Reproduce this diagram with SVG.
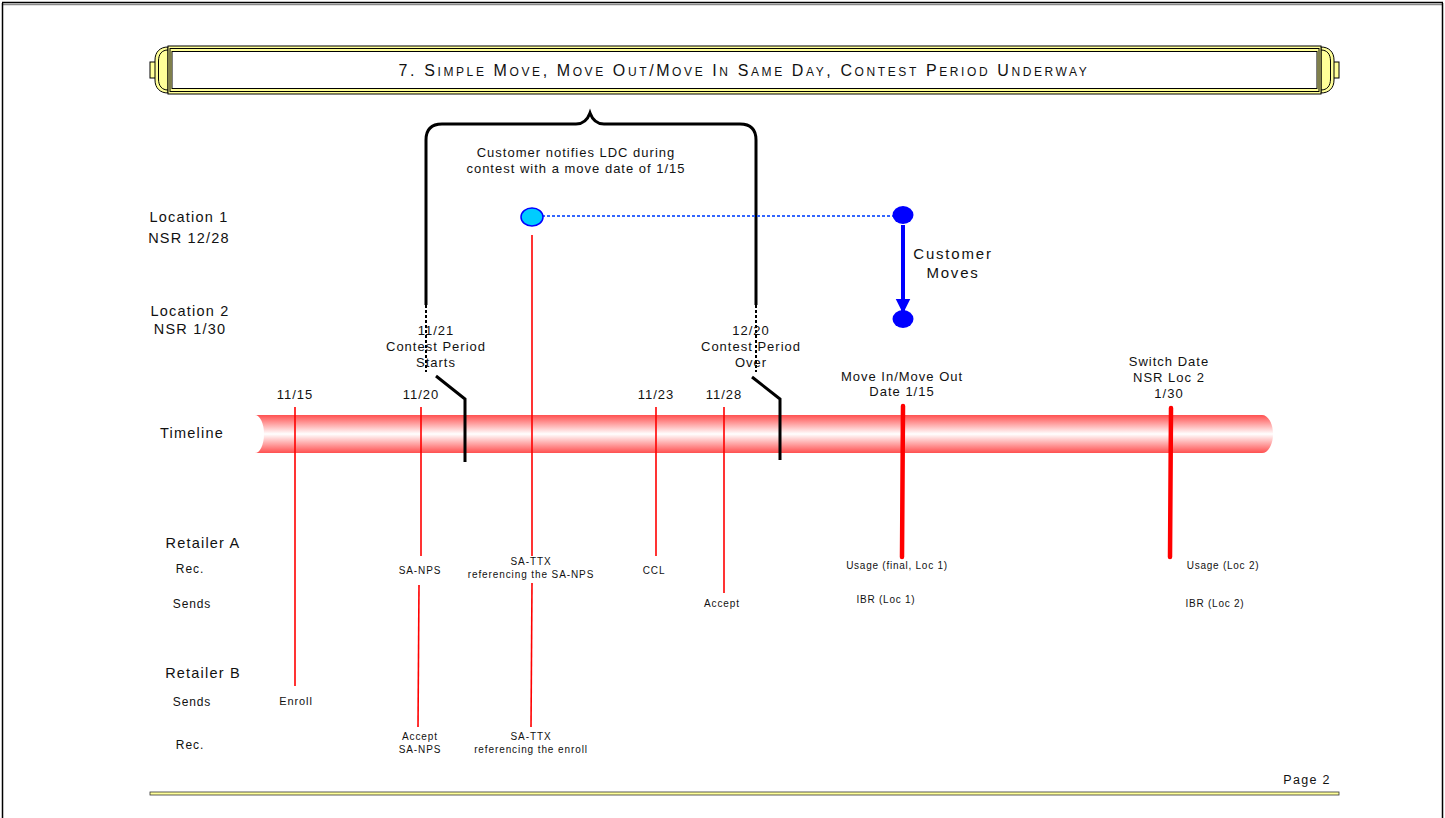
<svg xmlns="http://www.w3.org/2000/svg" width="1445" height="818" viewBox="0 0 1445 818">
<defs>
<linearGradient id="tube" x1="0" y1="0" x2="0" y2="1">
<stop offset="0" stop-color="#ff5050"/>
<stop offset="0.5" stop-color="#ffffff"/>
<stop offset="1" stop-color="#ff5050"/>
</linearGradient>
<marker id="bluehead" viewBox="0 0 10 10" refX="9" refY="5" markerWidth="15" markerHeight="18" orient="auto" markerUnits="userSpaceOnUse">
<path d="M0,0 L10,5 L0,10 Z" fill="#0000ff"/>
</marker>
<style>
text{font-family:"Liberation Sans",Arial,sans-serif;fill:#111;text-anchor:middle}
.lbl{font-size:14.5px;letter-spacing:1.2px}
.tick{font-size:13px;letter-spacing:1px}
.sm{font-size:10px;letter-spacing:0.9px}
.red{stroke:#ff0000;stroke-width:1.6;fill:none}
.redb{stroke:#ff0000;stroke-width:4.5;fill:none;stroke-linecap:round}
.blk{stroke:#000;stroke-width:3;fill:none}
.dash{stroke:#000;stroke-width:2;fill:none;stroke-dasharray:3 2}
.sc{font-size:12px}
</style>
</defs>
<rect width="1445" height="818" fill="#fff"/>
<!-- page frame -->
<g id="page-frame">
<line x1="2" y1="2.5" x2="1443" y2="2.5" stroke="#000" stroke-width="1.5"/>
<line x1="2" y1="4.5" x2="1443" y2="4.5" stroke="#888" stroke-width="1.5"/>
<line x1="2.5" y1="3" x2="2.5" y2="818" stroke="#000" stroke-width="1.5"/>
<line x1="1442.5" y1="3" x2="1442.5" y2="818" stroke="#000" stroke-width="1.5"/>
</g>
<!-- title banner -->
<g id="title">
<rect x="150" y="62" width="8" height="16" fill="#ffff99" stroke="#000" stroke-width="1"/>
<path d="M168,47 C160,47 155,52 155,60 L155,80 C155,88 160,93 168,93 Z" fill="#ffff99" stroke="#000" stroke-width="1"/>
<path d="M168,50 C162,50 158.5,54 158.5,61 L158.5,79 C158.5,86 162,90 168,90" fill="none" stroke="#000" stroke-width="1"/>
<rect x="1331" y="62" width="8" height="16" fill="#ffff99" stroke="#000" stroke-width="1"/>
<path d="M1321,47 C1329,47 1334,52 1334,60 L1334,80 C1334,88 1329,93 1321,93 Z" fill="#ffff99" stroke="#000" stroke-width="1"/>
<path d="M1321,50 C1327,50 1330.5,54 1330.5,61 L1330.5,79 C1330.5,86 1327,90 1321,90" fill="none" stroke="#000" stroke-width="1"/>
<rect x="168" y="46" width="1153" height="48" fill="#ffff99" stroke="#000" stroke-width="1"/>
<rect x="170" y="48.5" width="1149" height="43" fill="none" stroke="#000" stroke-width="1"/>
<rect x="172" y="51.5" width="1145" height="37" fill="#fff" stroke="#000" stroke-width="1"/>
<text x="744" y="76" style="font-size:16px;letter-spacing:2.6px">7. S<tspan class="sc">IMPLE</tspan> M<tspan class="sc">OVE</tspan>, M<tspan class="sc">OVE</tspan> O<tspan class="sc">UT</tspan>/M<tspan class="sc">OVE</tspan> I<tspan class="sc">N</tspan> S<tspan class="sc">AME</tspan> D<tspan class="sc">AY</tspan>, C<tspan class="sc">ONTEST</tspan> P<tspan class="sc">ERIOD</tspan> U<tspan class="sc">NDERWAY</tspan></text>
</g>
<!-- row labels -->
<g id="row-labels">
<text class="lbl" x="189" y="222">Location 1</text>
<text class="lbl" x="189" y="243">NSR 12/28</text>
<text class="lbl" x="190" y="316">Location 2</text>
<text class="lbl" x="190" y="334">NSR 1/30</text>
<text class="lbl" x="192" y="438">Timeline</text>
<text class="lbl" x="203" y="548">Retailer A</text>
<text class="sm" x="190" y="573" style="font-size:12px">Rec.</text>
<text class="sm" x="192" y="608" style="font-size:12px">Sends</text>
<text class="lbl" x="203" y="678">Retailer B</text>
<text class="sm" x="192" y="706" style="font-size:12px">Sends</text>
<text class="sm" x="190" y="749" style="font-size:12px">Rec.</text>
</g>
<!-- timeline -->
<g id="timeline">
<path d="M255,415 L1262,415 A11,19 0 0 1 1262,453 L255,453 A9,19 0 0 0 255,415 Z" fill="url(#tube)"/>
</g>
<!-- contest brace -->
<g id="contest-brace">
<path class="blk" d="M426,305 L426,140 Q426,124 442,124 L576,124 Q586,124 590,113 Q594,124 604,124 L740,124 Q756,124 756,140 L756,305"/>
<text x="576" y="157" style="font-size:13px;letter-spacing:1px">Customer notifies LDC during</text>
<text x="576" y="173" style="font-size:13px;letter-spacing:1px">contest with a move date of 1/15</text>
</g>
<!-- connectors -->
<g id="connectors">
<line class="dash" x1="426" y1="305" x2="426" y2="372"/>
<line class="dash" x1="756" y1="305" x2="756" y2="372"/>
<path class="blk" d="M436,376 L465,399 L465,462"/>
<path class="blk" d="M752,377 L780,399 L780,460"/>
<line class="red" x1="295" y1="407" x2="295" y2="686"/>
<line class="red" x1="421" y1="407" x2="421" y2="556"/>
<line class="red" x1="419" y1="585" x2="418" y2="727"/>
<line class="red" x1="532" y1="235" x2="532" y2="556"/>
<line class="red" x1="532" y1="583" x2="531" y2="727"/>
<line class="red" x1="656" y1="407" x2="656" y2="556"/>
<line class="red" x1="724" y1="407" x2="724" y2="593"/>
<line class="redb" x1="903" y1="406" x2="902" y2="557"/>
<line class="redb" x1="1171" y1="408" x2="1170" y2="557"/>
<line x1="542" y1="216" x2="893" y2="216" stroke="#3366ff" stroke-width="2" stroke-dasharray="3 2"/>
<line x1="903" y1="225" x2="903" y2="312" stroke="#0000ff" stroke-width="4" marker-end="url(#bluehead)"/>
</g>
<!-- blue nodes -->
<g id="loc1-notify">
<ellipse cx="532" cy="217" rx="11" ry="9" fill="#00ccff" stroke="#0000ff" stroke-width="1.5"/>
</g>
<g id="loc1-move">
<ellipse cx="903" cy="215" rx="10.5" ry="9" fill="#0000ff"/>
</g>
<g id="loc2-move">
<ellipse cx="903" cy="319" rx="10.5" ry="9" fill="#0000ff"/>
<text x="953" y="259" style="font-size:15px;letter-spacing:1.8px">Customer</text>
<text x="953" y="278" style="font-size:15px;letter-spacing:1.8px">Moves</text>
</g>
<!-- event labels -->
<g id="contest-start">
<text class="tick" x="436" y="335">11/21</text>
<text class="tick" x="436" y="351">Contest Period</text>
<text class="tick" x="436" y="367">Starts</text>
</g>
<g id="contest-over">
<text class="tick" x="751" y="335">12/20</text>
<text class="tick" x="751" y="351">Contest Period</text>
<text class="tick" x="751" y="367">Over</text>
</g>
<g id="d1115"><text class="tick" x="295" y="399">11/15</text><text class="sm" x="296" y="705" style="font-size:11px">Enroll</text></g>
<g id="d1120"><text class="tick" x="421" y="399">11/20</text><text class="sm" x="420" y="574">SA-NPS</text><text class="sm" x="420" y="740">Accept</text><text class="sm" x="420" y="753">SA-NPS</text></g>
<g id="ttx"><text class="sm" x="531" y="565">SA-TTX</text><text class="sm" x="531" y="578">referencing the SA-NPS</text><text class="sm" x="531" y="740">SA-TTX</text><text class="sm" x="531" y="753">referencing the enroll</text></g>
<g id="d1123"><text class="tick" x="656" y="399">11/23</text><text class="sm" x="654" y="574">CCL</text></g>
<g id="d1128"><text class="tick" x="724" y="399">11/28</text><text class="sm" x="722" y="607">Accept</text></g>
<g id="d0115"><text class="tick" x="902" y="381">Move In/Move Out</text><text class="tick" x="902" y="396">Date 1/15</text><text class="sm" x="897" y="569" style="letter-spacing:0.75px">Usage (final, Loc 1)</text><text class="sm" x="886" y="603" style="letter-spacing:0.75px">IBR (Loc 1)</text></g>
<g id="d0130"><text class="tick" x="1169" y="366">Switch Date</text><text class="tick" x="1169" y="382">NSR Loc 2</text><text class="tick" x="1169" y="398">1/30</text><text class="sm" x="1223" y="569" style="letter-spacing:0.75px">Usage (Loc 2)</text><text class="sm" x="1215" y="607" style="letter-spacing:0.75px">IBR (Loc 2)</text></g>
<!-- footer -->
<g id="footer">
<text x="1307" y="784" style="font-size:12.5px;letter-spacing:1.3px">Page 2</text>
<rect x="150" y="792" width="1189" height="3" fill="#ffff99" stroke="#333" stroke-width="0.8"/>
</g>
</svg>
